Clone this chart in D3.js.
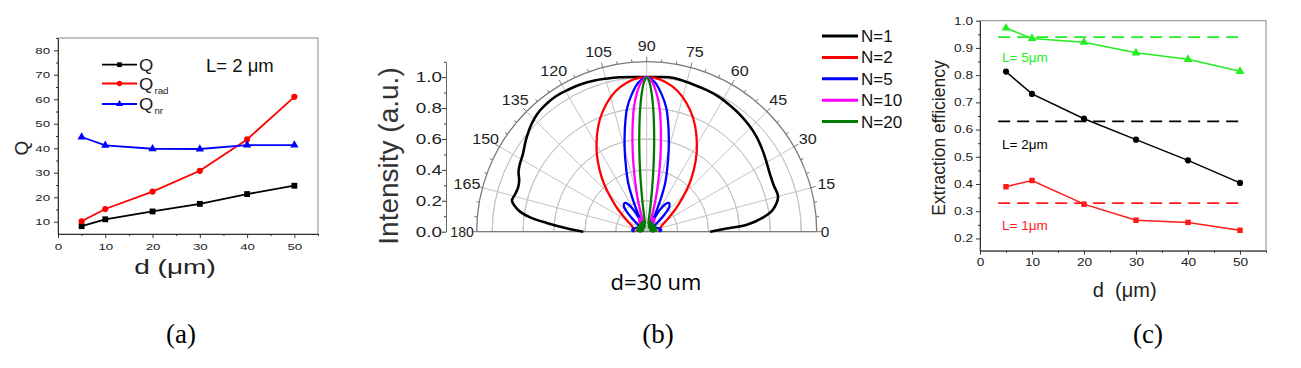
<!DOCTYPE html>
<html lang="en">
<head>
<meta charset="UTF-8">
<title>Q factor, angular intensity and extraction efficiency</title>
<script src="https://d3js.org/d3.v7.min.js"></script>
<style>
    body { margin: 0; background: #fff; }
    svg { display: block; font-family: "Liberation Sans", Arial, sans-serif; }
</style>
</head>
<body>
<div id="chart"></div>
<script>
// ---- panel (a): Q vs d, L = 2 um ----
const dA = [5, 10, 20, 30, 40, 50];
const qTotal = [8.2, 11.0, 14.2, 17.3, 21.3, 24.7];
const qRad = [10.2, 15.2, 22.3, 30.8, 43.6, 61.0];
const qNr = [44.6, 41.2, 39.8, 39.7, 41.3, 41.3];
const xTicksA = [0, 10, 20, 30, 40, 50];
const yTicksA = [10, 20, 30, 40, 50, 60, 70, 80];

// ---- panel (b): normalised angular intensity, d = 30 um ----
const polarTicks = [0, 15, 30, 45, 60, 75, 90, 105, 120, 135, 150, 165, 180];
const radialTicks = [0.0, 0.2, 0.4, 0.6, 0.8, 1.0];
const n1Angle = [0, 2, 4, 7, 10, 15, 20, 25, 31, 36, 41, 46, 52, 57, 62, 67, 73, 80, 85, 90,
    95, 100, 105, 109, 114, 119, 124, 129, 133, 137, 140, 143, 148, 152, 155, 158, 161, 164,
    167, 169, 171, 173, 175, 178, 180];
const n1R = [0.41, 0.5, 0.65, 0.76, 0.83, 0.88, 0.875, 0.88, 0.9, 0.92, 0.94, 0.955, 0.97, 0.98,
    0.99, 0.995, 1.0, 1.01, 1.005, 1.0, 1.005, 1.015, 1.025, 1.035, 1.045, 1.05, 1.055, 1.05,
    1.04, 1.02, 1.0, 0.98, 0.945, 0.93, 0.915, 0.89, 0.88, 0.885, 0.895, 0.87, 0.83, 0.76,
    0.65, 0.5, 0.41];
const n2Angle = [0, 10, 20, 30, 40, 50, 60, 70, 80, 90, 100, 110, 120, 130, 140, 150, 160, 170, 180];
const n2R = [0.08, 0.085, 0.1, 0.15, 0.265, 0.45, 0.65, 0.83, 0.955, 1.0, 0.955, 0.83, 0.65,
    0.45, 0.265, 0.15, 0.1, 0.085, 0.08];
const n5Angle = [0, 6, 12, 20, 28, 36, 40, 44, 48, 52, 56, 59, 62, 64, 66, 69, 72, 75, 78, 81,
    84, 87, 90, 93, 96, 99, 102, 105, 108, 111, 114, 116, 118, 121, 124, 128, 132, 136, 140,
    144, 152, 160, 168, 174, 180];
const n5R = [0.08, 0.095, 0.09, 0.07, 0.05, 0.05, 0.09, 0.16, 0.22, 0.235, 0.215, 0.16, 0.07,
    0.12, 0.2, 0.33, 0.43, 0.55, 0.68, 0.81, 0.9, 0.97, 1.0, 0.97, 0.9, 0.81, 0.68, 0.55, 0.43,
    0.33, 0.2, 0.12, 0.07, 0.16, 0.215, 0.235, 0.22, 0.16, 0.09, 0.05, 0.05, 0.07, 0.09, 0.095, 0.08];
const n10Angle = [0, 8, 18, 30, 42, 50, 55, 60, 64, 68, 70, 72, 74, 76, 78, 80, 82, 84, 86, 88,
    90, 92, 94, 96, 98, 100, 102, 104, 106, 108, 110, 112, 116, 120, 125, 130, 138, 150, 162, 172, 180];
const n10R = [0.04, 0.06, 0.05, 0.04, 0.04, 0.06, 0.085, 0.1, 0.085, 0.05, 0.07, 0.12, 0.19,
    0.28, 0.39, 0.52, 0.66, 0.8, 0.9, 0.97, 1.0, 0.97, 0.9, 0.8, 0.66, 0.52, 0.39, 0.28, 0.19,
    0.12, 0.07, 0.05, 0.085, 0.1, 0.085, 0.06, 0.04, 0.04, 0.05, 0.06, 0.04];
const n20Angle = [0, 6, 12, 18, 24, 30, 36, 42, 48, 54, 60, 65, 70, 74, 78, 80, 81, 82, 83, 84,
    85, 86, 87, 88, 89, 90, 91, 92, 93, 94, 95, 96, 97, 98, 99, 100, 102, 106, 110, 115, 120,
    126, 132, 138, 144, 150, 156, 162, 168, 174, 180];
const n20R = [0.03, 0.065, 0.025, 0.065, 0.025, 0.065, 0.03, 0.065, 0.03, 0.065, 0.03, 0.07,
    0.035, 0.07, 0.05, 0.07, 0.12, 0.2, 0.3, 0.42, 0.55, 0.68, 0.8, 0.9, 0.97, 1.0, 0.97, 0.9,
    0.8, 0.68, 0.55, 0.42, 0.3, 0.2, 0.12, 0.07, 0.05, 0.07, 0.035, 0.07, 0.03, 0.065, 0.03,
    0.065, 0.03, 0.065, 0.025, 0.065, 0.025, 0.065, 0.03];
const polarNames = ["N=1", "N=2", "N=5", "N=10", "N=20"];
const polarColors = ["#000000", "#ff0000", "#0000ff", "#ff00ff", "#007a00"];

// ---- panel (c): extraction efficiency vs d ----
const dC = [5, 10, 20, 30, 40, 50];
const eff5 = [0.973, 0.935, 0.921, 0.882, 0.858, 0.814];
const eff2 = [0.813, 0.731, 0.640, 0.563, 0.487, 0.404];
const eff1 = [0.390, 0.413, 0.326, 0.267, 0.259, 0.230];
const refLevels = [0.94, 0.63, 0.33];
const refRange = [3.5, 50.5];
const xTicksC = [0, 10, 20, 30, 40, 50];
const yTicksC = [0.2, 0.3, 0.4, 0.5, 0.6, 0.7, 0.8, 0.9, 1.0];

const svg = d3.select("#chart").append("svg")
    .attr("width", 1301)
    .attr("height", 368);

// text that is stretched sideways, like the exported figure
function wideText(g, x, y, str, size, anchor, sx, color) {
    return g.append("text")
        .attr("transform", `translate(${x},${y}) scale(${sx},1)`)
        .attr("text-anchor", anchor)
        .attr("font-size", size)
        .attr("fill", color || "#222")
        .text(str);
}

function styleAxis(g, size, sx, gap, isLeft) {
    g.select(".domain").attr("stroke", "#333");
    g.selectAll(".tick line").attr("stroke", "#333");
    const t = g.selectAll(".tick text")
        .attr("font-size", size)
        .attr("fill", "#222")
        .attr("font-family", "Liberation Sans, Arial, sans-serif")
        .attr("transform", `scale(${sx},1)`);
    if (isLeft) t.attr("x", -gap / sx);
}

function minorAxis(g, axis, transform) {
    const m = g.append("g").attr("transform", transform).call(axis);
    m.select(".domain").remove();
    m.selectAll(".tick line").attr("stroke", "#333");
    m.selectAll("text").remove();
}

// ================= panel (a) =================
const xA = d3.scaleLinear().domain([0, 55]).range([58, 318]);
const yA = d3.scaleLinear().domain([5, 85]).range([234, 38]);
const gA = svg.append("g");

gA.append("rect")
    .attr("x", xA(0)).attr("y", yA(85))
    .attr("width", xA(55) - xA(0)).attr("height", yA(5) - yA(85))
    .attr("fill", "none").attr("stroke", "#888");

minorAxis(gA, d3.axisBottom(xA).tickValues([5, 15, 25, 35, 45, 55]).tickSize(2).tickSizeOuter(0),
    `translate(0,${yA(5)})`);
minorAxis(gA, d3.axisLeft(yA).tickValues([15, 25, 35, 45, 55, 65, 75, 85]).tickSize(2).tickSizeOuter(0),
    `translate(${xA(0)},0)`);

const axA = gA.append("g").attr("transform", `translate(0,${yA(5)})`)
    .call(d3.axisBottom(xA).tickValues(xTicksA).tickSize(4).tickPadding(5).tickSizeOuter(0));
styleAxis(axA, 9.5, 1.4, 0, false);
const ayA = gA.append("g").attr("transform", `translate(${xA(0)},0)`)
    .call(d3.axisLeft(yA).tickValues(yTicksA).tickSize(4).tickSizeOuter(0));
styleAxis(ayA, 9.5, 1.4, 8, true);

const seriesA = [
    { v: qTotal, color: "#000000", sym: d3.symbolSquare, size: 34 },
    { v: qRad, color: "#ff0000", sym: d3.symbolCircle, size: 30 },
    { v: qNr, color: "#0000ff", sym: d3.symbolTriangle, size: 30 }
];
const lineA = d3.line().x((d, i) => xA(dA[i])).y(d => yA(d));
seriesA.forEach(s => {
    gA.append("path").attr("d", lineA(s.v))
        .attr("fill", "none").attr("stroke", s.color).attr("stroke-width", 1.8);
    gA.selectAll(null).data(s.v).enter().append("path")
        .attr("d", d3.symbol(s.sym, s.size))
        .attr("transform", (d, i) => `translate(${xA(dA[i])},${yA(d)})`)
        .attr("fill", s.color);
});

// legend (a)
const legA = [["Q", ""], ["Q", "rad"], ["Q", "nr"]];
const legAy = [64.7, 83.5, 104];
legA.forEach((l, i) => {
    const s = seriesA[i];
    gA.append("line").attr("x1", 102).attr("x2", 137).attr("y1", legAy[i]).attr("y2", legAy[i])
        .attr("stroke", s.color).attr("stroke-width", 1.8);
    gA.append("path").attr("d", d3.symbol(s.sym, 22))
        .attr("transform", `translate(119.5,${legAy[i]})`).attr("fill", s.color);
    const t = gA.append("text").attr("transform", `translate(139,${legAy[i] + 6}) scale(1.15,1)`)
        .attr("font-size", 16).attr("fill", "#222").text(l[0]);
    if (l[1]) t.append("tspan").attr("font-size", 8.5).attr("dy", 4).attr("dx", 1).text(l[1]);
});
gA.append("text").attr("x", 206).attr("y", 72).attr("font-size", 18.5).attr("fill", "#111")
    .text("L= 2 \u03bcm");

wideText(gA, 175, 274, "d (\u03bcm)", 20, "middle", 1.4, "#222");
gA.append("text").attr("transform", "translate(28,148) rotate(-90)")
    .attr("text-anchor", "middle").attr("font-size", 19).attr("fill", "#222").text("Q");

// ================= panel (b) =================
const cx = 646.7, cy = 231.7;
const rS = d3.scaleLinear().domain([0, 1.1]).range([0, 170]);
const gB = svg.append("g");
const gP = gB.append("g").attr("transform", `translate(${cx},${cy})`);
const rad = a => a * Math.PI / 180;

// grid circles
[0.2, 0.4, 0.6, 0.8, 1.0].forEach(v => {
    gP.append("path")
        .attr("d", d3.arc()({ innerRadius: rS(v), outerRadius: rS(v), startAngle: -Math.PI / 2, endAngle: Math.PI / 2 }))
        .attr("fill", "none").attr("stroke", "#c4c4c4").attr("stroke-width", 1);
});
// radial grid lines
polarTicks.forEach(a => {
    gP.append("line").attr("x1", 0).attr("y1", 0)
        .attr("x2", rS(1.1) * Math.cos(rad(a))).attr("y2", -rS(1.1) * Math.sin(rad(a)))
        .attr("stroke", "#c4c4c4").attr("stroke-width", 1);
});
// outer arc with ticks
gP.append("path")
    .attr("d", d3.arc()({ innerRadius: rS(1.1), outerRadius: rS(1.1), startAngle: -Math.PI / 2, endAngle: Math.PI / 2 }))
    .attr("fill", "none").attr("stroke", "#7a7a7a").attr("stroke-width", 1.3);
d3.range(0, 181, 5).forEach(a => {
    const len = a % 15 === 0 ? 5 : 3;
    gP.append("line")
        .attr("x1", rS(1.1) * Math.cos(rad(a))).attr("y1", -rS(1.1) * Math.sin(rad(a)))
        .attr("x2", (rS(1.1) + len) * Math.cos(rad(a))).attr("y2", -(rS(1.1) + len) * Math.sin(rad(a)))
        .attr("stroke", "#7a7a7a");
});
gP.append("line").attr("x1", -rS(1.1)).attr("x2", rS(1.1)).attr("y1", 0).attr("y2", 0)
    .attr("stroke", "#7a7a7a").attr("stroke-width", 1.3);

// angle labels
polarTicks.forEach(a => {
    if (a === 0) {
        wideText(gP, rS(1.1) + 4, 5, "0", 14, "start", 1.1, "#222");
    } else if (a === 180) {
        wideText(gP, -rS(1.1) - 3, 5, "180", 14, "end", 1.0, "#222");
    } else {
        const r = 186;
        wideText(gP, r * Math.cos(rad(a)), -r * Math.sin(rad(a)) + 5, String(a), 14, "middle", 1.15, "#222");
    }
});

// radial axis on the left
const yB = d3.scaleLinear().domain([0, 1.1]).range([cy, cy - rS(1.1)]);
minorAxis(gB, d3.axisLeft(yB).tickValues([0.1, 0.3, 0.5, 0.7, 0.9, 1.1]).tickSize(2).tickSizeOuter(0),
    "translate(446,0)");
const ayB = gB.append("g").attr("transform", "translate(446,0)")
    .call(d3.axisLeft(yB).tickValues(radialTicks).tickSize(4).tickSizeOuter(0).tickFormat(d3.format(".1f")));
styleAxis(ayB, 14, 1.35, 4, true);
ayB.select(".domain").attr("stroke", "#666");

gB.append("text").attr("transform", "translate(398,156) rotate(-90)")
    .attr("text-anchor", "middle").attr("font-size", 28).attr("fill", "#333")
    .text("Intensity (a.u.)");

const radial = d3.lineRadial()
    .angle(d => rad(90 - d[0]))
    .radius(d => rS(d[1]))
    .curve(d3.curveCatmullRom.alpha(0.5));
const polarSeries = [
    [n1Angle, n1R], [n2Angle, n2R], [n5Angle, n5R], [n10Angle, n10R], [n20Angle, n20R]
];
polarSeries.forEach((s, i) => {
    const pts = s[0].map((a, j) => [a, s[1][j]]);
    gP.append("path").attr("d", radial(pts))
        .attr("fill", "none").attr("stroke", polarColors[i])
        .attr("stroke-width", i === 0 ? 2.6 : 2.3).attr("stroke-linejoin", "round");
});

// legend (b)
polarNames.forEach((n, i) => {
    const y = 36 + i * 21.4;
    gB.append("line").attr("x1", 822).attr("x2", 858).attr("y1", y).attr("y2", y)
        .attr("stroke", polarColors[i]).attr("stroke-width", 3);
    gB.append("text").attr("x", 861).attr("y", y + 6).attr("font-size", 17).attr("fill", "#111").text(n);
});

gB.append("text").attr("x", 656).attr("y", 290).attr("text-anchor", "middle")
    .attr("font-family", "Open Sans, sans-serif").attr("font-size", 22).attr("fill", "#000")
    .text("d=30 um");

// ================= panel (c) =================
const xC = d3.scaleLinear().domain([0, 55]).range([980, 1266]);
const yC = d3.scaleLinear().domain([0.155, 1.0]).range([250.7, 20.7]);
const gC = svg.append("g");

gC.append("rect")
    .attr("x", xC(0)).attr("y", yC(1.0))
    .attr("width", xC(55) - xC(0)).attr("height", yC(0.155) - yC(1.0))
    .attr("fill", "none").attr("stroke", "#888");
minorAxis(gC, d3.axisBottom(xC).tickValues([5, 15, 25, 35, 45, 55]).tickSize(2).tickSizeOuter(0),
    `translate(0,${yC(0.155)})`);
minorAxis(gC, d3.axisLeft(yC).tickValues([0.25, 0.35, 0.45, 0.55, 0.65, 0.75, 0.85, 0.95]).tickSize(2).tickSizeOuter(0),
    `translate(${xC(0)},0)`);
const axC = gC.append("g").attr("transform", `translate(0,${yC(0.155)})`)
    .call(d3.axisBottom(xC).tickValues(xTicksC).tickSize(4).tickPadding(4).tickSizeOuter(0));
styleAxis(axC, 10.5, 1.3, 0, false);
const ayC = gC.append("g").attr("transform", `translate(${xC(0)},0)`)
    .call(d3.axisLeft(yC).tickValues(yTicksC).tickSize(4).tickSizeOuter(0).tickFormat(d3.format(".1f")));
styleAxis(ayC, 10.5, 1.3, 7, true);

const seriesC = [
    { v: eff5, color: "#22ee22", sym: d3.symbolTriangle, size: 34, label: "L= 5\u03bcm", ly: 62 },
    { v: eff2, color: "#000000", sym: d3.symbolCircle, size: 30, label: "L= 2\u03bcm", ly: 149 },
    { v: eff1, color: "#ff1a1a", sym: d3.symbolSquare, size: 30, label: "L= 1\u03bcm", ly: 230 }
];
const lineC = d3.line().x((d, i) => xC(dC[i])).y(d => yC(d));
seriesC.forEach((s, k) => {
    gC.append("line")
        .attr("x1", xC(refRange[0])).attr("x2", xC(refRange[1]))
        .attr("y1", yC(refLevels[k])).attr("y2", yC(refLevels[k]))
        .attr("stroke", s.color).attr("stroke-width", 1.8).attr("stroke-dasharray", "12,7");
    gC.append("path").attr("d", lineC(s.v))
        .attr("fill", "none").attr("stroke", s.color).attr("stroke-width", 1.5);
    gC.selectAll(null).data(s.v).enter().append("path")
        .attr("d", d3.symbol(s.sym, s.size))
        .attr("transform", (d, i) => `translate(${xC(dC[i])},${yC(d)})`)
        .attr("fill", s.color);
    gC.append("text").attr("x", 1002).attr("y", s.ly).attr("font-size", 13.5)
        .attr("fill", s.color).text(s.label);
});

gC.append("text").attr("transform", "translate(945,138) rotate(-90)")
    .attr("text-anchor", "middle").attr("font-size", 17.5).attr("fill", "#222")
    .text("Extraction efficiency");
gC.append("text").attr("x", 1124.7).attr("y", 297).attr("text-anchor", "middle")
    .attr("font-size", 20).attr("fill", "#222").attr("xml:space", "preserve")
    .style("white-space", "pre").text("d  (\u03bcm)");

// ================= panel captions =================
[["(a)", 181], ["(b)", 658], ["(c)", 1148]].forEach(c => {
    svg.append("text")
        .attr("x", c[1]).attr("y", 343)
        .attr("text-anchor", "middle")
        .attr("font-family", "Liberation Serif, Times New Roman, serif")
        .attr("font-size", 27).attr("fill", "#000").text(c[0]);
});
</script>
</body>
</html>
